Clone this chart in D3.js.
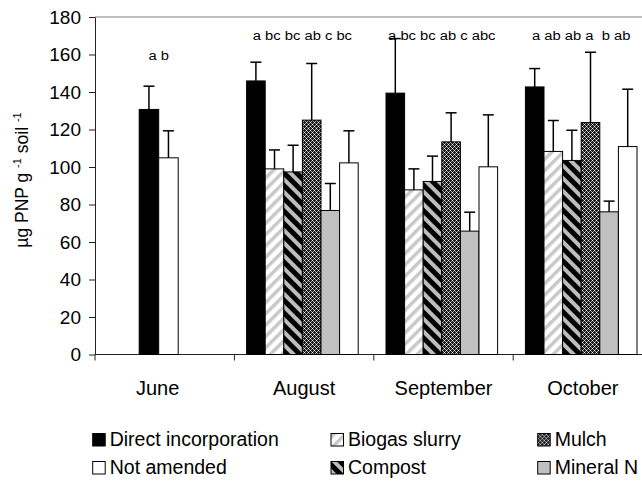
<!DOCTYPE html>
<html><head><meta charset="utf-8">
<script src="https://cdn.jsdelivr.net/npm/d3@7"></script>
<style>
html,body{margin:0;padding:0;background:#fff;}
svg{display:block;}
text{font-family:"Liberation Sans",Arial,sans-serif;fill:#000;}
</style></head>
<body><svg id="c" width="642" height="485"></svg>
<script>
const months = ["June","August","September","October"];
const seriesNames = ["Direct incorporation","Biogas slurry","Compost","Mulch","Mineral N","Not amended"];
const direct     = [130.7, 145.9, 139.4, 142.7];
const biogas     = [null, 99.0, 87.8, 108.3];
const compost    = [null, 97.4, 92.3, 103.5];
const mulch      = [null, 125.0, 113.4, 123.7];
const mineralN   = [null, 76.8, 65.8, 76.1];
const notAmended = [104.9, 102.2, 100.1, 110.9];
const directErr     = [12.4, 10.0, 29.1, 9.8];
const biogasErr     = [null, 10.1, 11.2, 16.5];
const compostErr    = [null, 14.2, 13.5, 16.1];
const mulchErr      = [null, 30.2, 15.5, 37.5];
const mineralNErr   = [null, 14.4, 10.1, 5.7];
const notAmendedErr = [14.4, 17.1, 27.7, 30.6];
const letters = ["a b", "a bc bc ab c bc", "a bc bc ab c abc", "a ab ab a  b ab"];
const letterLevel = [157, 168, 168, 168];
const yTicks = [0,20,40,60,80,100,120,140,160,180];
const legendOrder = ["Direct incorporation","Biogas slurry","Mulch","Not amended","Compost","Mineral N"];

const values = [direct, biogas, compost, mulch, mineralN, notAmended];
const errs = [directErr, biogasErr, compostErr, mulchErr, mineralNErr, notAmendedErr];

const svg = d3.select("#c");
const defs = svg.append("defs");
const pb = defs.append("pattern").attr("id","pBiogas").attr("patternUnits","userSpaceOnUse")
  .attr("width",8).attr("height",8).attr("patternTransform","rotate(45)");
pb.append("rect").attr("width",8).attr("height",8).attr("fill","#fff");
pb.append("rect").attr("x",0).attr("width",3.5).attr("height",8).attr("fill","#c8c8c8");
const pc = defs.append("pattern").attr("id","pCompost").attr("patternUnits","userSpaceOnUse")
  .attr("width",9).attr("height",9).attr("patternTransform","rotate(-45)");
pc.append("rect").attr("width",9).attr("height",9).attr("fill","#000");
pc.append("rect").attr("x",0).attr("width",4).attr("height",9).attr("fill","#bdbdbd");
const pm = defs.append("pattern").attr("id","pMulch").attr("patternUnits","userSpaceOnUse")
  .attr("width",4).attr("height",4);
pm.append("rect").attr("width",4).attr("height",4).attr("fill","#1a1a1a");
[[0,0],[2,2]].forEach(([a,b])=>pm.append("rect").attr("x",a).attr("y",b).attr("width",1).attr("height",1).attr("fill","#fff"));
[[1,1],[3,3],[1,3],[3,1]].forEach(([a,b])=>pm.append("rect").attr("x",a).attr("y",b).attr("width",1).attr("height",1).attr("fill","#9a9a9a"));

const fills = {"Direct incorporation":"#000","Biogas slurry":"url(#pBiogas)","Compost":"url(#pCompost)",
  "Mulch":"url(#pMulch)","Mineral N":"#c0c0c0","Not amended":"#fff"};

const mLeft = 95, mTop = 17, mBottom = 354.5, catW = 139.4;
const y = d3.scaleLinear().domain([0,180]).range([mBottom, mTop]);
const x = d3.scaleBand().domain(months).range([mLeft, mLeft + catW*months.length]).padding(0);

svg.append("line").attr("x1",mLeft).attr("x2",642).attr("y1",mTop).attr("y2",mTop)
  .attr("stroke","#808080").attr("stroke-width",1);

const ya = svg.append("g").attr("transform",`translate(${mLeft},0)`)
  .call(d3.axisLeft(y).tickValues(yTicks).tickSize(6).tickPadding(8).tickSizeOuter(0));
ya.select(".domain").attr("stroke","#222");
ya.selectAll(".tick line").attr("stroke","#222");
ya.selectAll("text").style("font-size","19px").attr("font-family",null);

svg.append("line").attr("x1",mLeft).attr("x2",642).attr("y1",mBottom).attr("y2",mBottom).attr("stroke","#222");
const bounds = months.map(m=>x(m)).concat([x(months[months.length-1])+x.bandwidth()]);
svg.selectAll(".bt").data(bounds).join("line").attr("class","bt")
  .attr("x1",d=>d).attr("x2",d=>d).attr("y1",mBottom).attr("y2",mBottom+6).attr("stroke","#222");
svg.selectAll(".xl").data(months).join("text").attr("class","xl")
  .attr("x",(d,i)=>x(d)+x.bandwidth()/2 + (i===0?-7:0)).attr("y",395)
  .attr("text-anchor","middle").style("font-size","20px").text(d=>d);

months.forEach((m,mi)=>{
  const present = seriesNames.filter((s,si)=>values[si][mi]!=null);
  const bw = present.length===6 ? 18.6 : 19.5;
  const off = present.length===6 ? 12.2 : 44.2;
  const inner = d3.scaleBand().domain(present).range([x(m)+off, x(m)+off+bw*present.length]).padding(0);
  const g = svg.append("g");
  present.forEach(s=>{
    const si = seriesNames.indexOf(s);
    const v = values[si][mi], e = errs[si][mi];
    const cx = inner(s)+inner.bandwidth()/2;
    g.append("line").attr("x1",cx).attr("x2",cx).attr("y1",y(v)).attr("y2",y(v+e)).attr("stroke","#000").attr("stroke-width",1.5);
    g.append("line").attr("x1",cx-5.5).attr("x2",cx+5.5).attr("y1",y(v+e)).attr("y2",y(v+e)).attr("stroke","#000").attr("stroke-width",1.5);
    g.append("rect").attr("x",inner(s)).attr("y",y(v)).attr("width",inner.bandwidth()).attr("height",mBottom-y(v))
      .attr("fill",fills[s]).attr("stroke","#000").attr("stroke-width",1);
  });
  const gx0 = inner(present[0]), gx1 = inner(present[present.length-1])+inner.bandwidth();
  const t = svg.append("text").attr("x",(gx0+gx1)/2).attr("y",y(letterLevel[mi]))
    .attr("text-anchor","middle").style("font-size","12.5px")
    .style("white-space","pre").text(letters[mi]);
  const L = t.node().getComputedTextLength();
  t.attr("textLength", L*1.18).attr("lengthAdjust","spacingAndGlyphs");
});

const yt = svg.append("text").attr("transform","translate(28,180) rotate(-90)").attr("text-anchor","middle")
  .style("font-size","17.5px").style("white-space","pre");
yt.append("tspan").text("µg PNP g ");
yt.append("tspan").attr("dy",-7).style("font-size","11px").text("-1");
yt.append("tspan").attr("dy",7).text(" soil ");
yt.append("tspan").attr("dy",-7).style("font-size","11px").text("-1");

const colX = [92.7, 331, 537.7];
const rowY = [446, 474];
legendOrder.forEach((s,i)=>{
  const c = i%3, r = Math.floor(i/3);
  const g = svg.append("g").attr("transform",`translate(${colX[c]},${rowY[r]})`);
  g.append("rect").attr("x",0).attr("y",-12.5).attr("width",12.5).attr("height",12.5)
    .attr("fill",fills[s]).attr("stroke","#000").attr("stroke-width",1);
  g.append("text").attr("x",17).attr("y",0).style("font-size","19.5px").text(s);
});
</script></body></html>
